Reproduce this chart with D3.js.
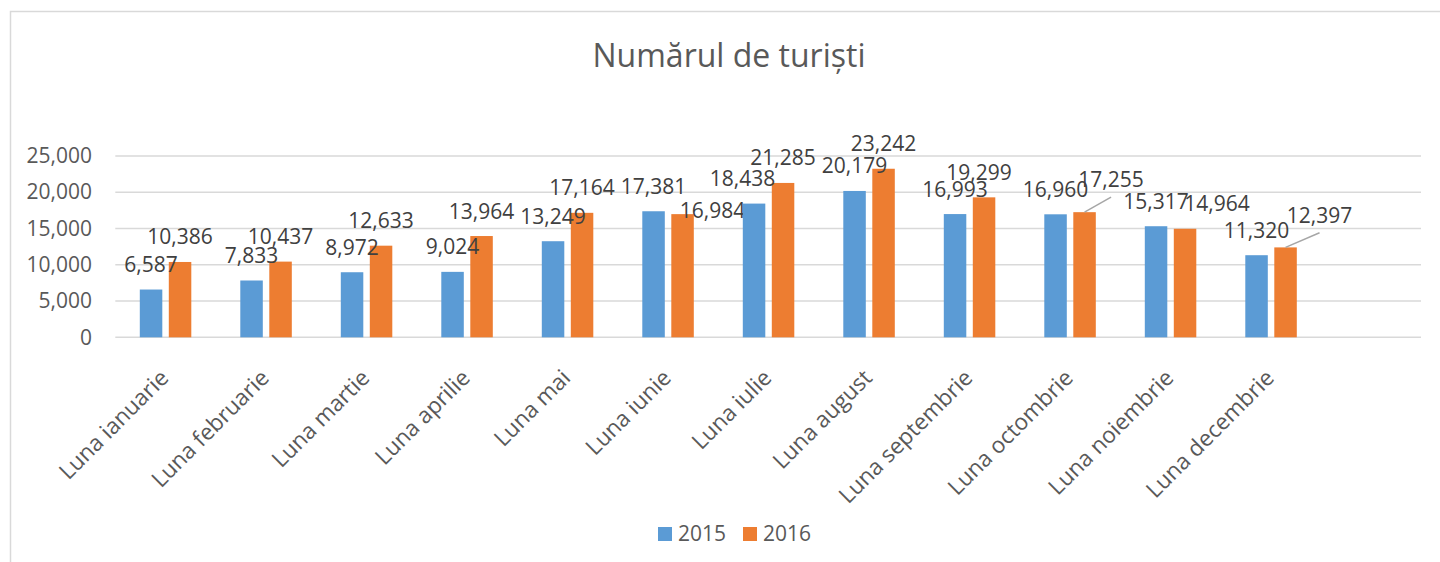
<!DOCTYPE html>
<html>
<head>
<meta charset="utf-8">
<script src="https://cdn.jsdelivr.net/npm/d3@7"></script>
<style>
  body { margin: 0; background: #fff; }
  text { font-family: "Open Sans", sans-serif; }
</style>
</head>
<body>
<div id="chart"></div>
<script>
// data
const months = ["Luna ianuarie", "Luna februarie", "Luna martie", "Luna aprilie", "Luna mai", "Luna iunie",
                "Luna iulie", "Luna august", "Luna septembrie", "Luna octombrie", "Luna noiembrie", "Luna decembrie"];
const series = ["2015", "2016"];
const val2015 = [6587, 7833, 8972, 9024, 13249, 17381, 18438, 20179, 16993, 16960, 15317, 11320];
const val2016 = [10386, 10437, 12633, 13964, 17164, 16984, 21285, 23242, 19299, 17255, 14964, 12397];
const yTicks = [0, 5000, 10000, 15000, 20000, 25000];

// label nudges (Excel moved a few labels by hand)
const nudge2015 = [[0,0],[0,0],[0,0],[0,0],[0,0],[0,0],[-11.5,0],[0,0],[0,0],[0,0],[0,0],[0,0]];
const nudge2016 = [[0,0],[0,0],[0,0],[0,0],[0,0],[30,21.5],[0,0],[0,0],[-5,0],[26.5,-7.5],[32,0],[34,-7.2]];
const leader2016 = [false,false,false,false,false,false,false,false,false,true,false,true];

const width = 1440, height = 562;
const colors = {"2015": "#5B9BD5", "2016": "#ED7D31"};
const plotLeft = 115.3, step = 100.5, plotRight = 1421;
const yTop = 156, yBottom = 337.3;

const svg = d3.select("#chart").append("svg")
    .attr("width", width)
    .attr("height", height);

// chart frame
svg.append("rect")
    .attr("x", 10.5).attr("y", 11.5)
    .attr("width", 1500).attr("height", 700)
    .attr("fill", "#fff")
    .attr("stroke", "#D9D9D9")
    .attr("stroke-width", 1.5);

svg.append("text")
    .attr("x", 729).attr("y", 67)
    .attr("text-anchor", "middle")
    .attr("fill", "#595959")
    .style("font-size", "32px")
    .text("Numărul de turiști");

let x = d3.scaleBand()
    .domain(months)
    .range([plotLeft, plotLeft + months.length * step]);
let x1 = d3.scaleBand()
    .domain(series)
    .range([24.5, 76])
    .paddingInner(6.5 / 29);
let y = d3.scaleLinear()
    .domain([0, 25000])
    .range([yBottom, yTop]);

// gridlines
svg.append("g")
    .selectAll("line")
    .data(yTicks)
    .enter()
    .append("line")
    .attr("x1", plotLeft)
    .attr("x2", plotRight)
    .attr("y1", d => y(d))
    .attr("y2", d => y(d))
    .attr("stroke", "#D9D9D9")
    .attr("stroke-width", 1.5);

// y axis labels
let yAxis = d3.axisLeft(y).tickValues(yTicks).tickFormat(d3.format(",")).tickSize(0).tickPadding(0);
let yg = svg.append("g")
    .attr("transform", "translate(92,0)")
    .call(yAxis);
yg.select(".domain").remove();
yg.selectAll("text")
    .attr("fill", "#595959")
    .style("font-size", "21px")
    .style("font-family", "'Open Sans', sans-serif");

// bars
const table = months.map((m, i) => ({month: m, i: i, values: [
    {key: "2015", value: val2015[i], nudge: nudge2015[i], leader: false},
    {key: "2016", value: val2016[i], nudge: nudge2016[i], leader: leader2016[i]}
]}));

let groups = svg.append("g")
    .selectAll("g")
    .data(table)
    .enter()
    .append("g")
    .attr("transform", d => `translate(${x(d.month)},0)`);

groups.selectAll("rect")
    .data(d => d.values)
    .enter()
    .append("rect")
    .attr("x", d => x1(d.key))
    .attr("y", d => y(d.value))
    .attr("width", x1.bandwidth())
    .attr("height", d => y(0) - y(d.value))
    .attr("fill", d => colors[d.key]);

// leader lines
groups.selectAll("line.leader")
    .data(d => d.values.filter(v => v.leader))
    .enter()
    .append("line")
    .attr("class", "leader")
    .attr("x1", d => x1(d.key) + x1.bandwidth() / 2 + d.nudge[0])
    .attr("y1", d => y(d.value) - 17.5 + d.nudge[1] + 10)
    .attr("x2", d => x1(d.key) + x1.bandwidth() / 2)
    .attr("y2", d => y(d.value))
    .attr("stroke", "#A6A6A6")
    .attr("stroke-width", 1.5);

// value labels
groups.selectAll("text.value")
    .data(d => d.values)
    .enter()
    .append("text")
    .attr("class", "value")
    .attr("x", d => x1(d.key) + x1.bandwidth() / 2 + d.nudge[0])
    .attr("y", d => y(d.value) - 17.5 + d.nudge[1])
    .attr("text-anchor", "middle")
    .attr("fill", "#404040")
    .style("font-size", "21px")
    .text(d => d3.format(",")(d.value));

// category labels, rotated
svg.append("g")
    .selectAll("text")
    .data(months)
    .enter()
    .append("text")
    .attr("transform", d => `translate(${x(d) + x.bandwidth() / 2 - 7},368) rotate(-45)`)
    .attr("text-anchor", "end")
    .attr("dy", "0.71em")
    .attr("fill", "#595959")
    .style("font-size", "22.5px")
    .text(d => d);

// legend
let legendX = {"2015": 658, "2016": 743};
let legend = svg.append("g")
    .selectAll("g")
    .data(series)
    .enter()
    .append("g")
    .attr("transform", d => `translate(${legendX[d]},527)`);
legend.append("rect")
    .attr("width", 14)
    .attr("height", 14)
    .attr("fill", d => colors[d]);
legend.append("text")
    .attr("x", 20)
    .attr("y", 14)
    .attr("fill", "#595959")
    .style("font-size", "21px")
    .text(d => d);
</script>
</body>
</html>
